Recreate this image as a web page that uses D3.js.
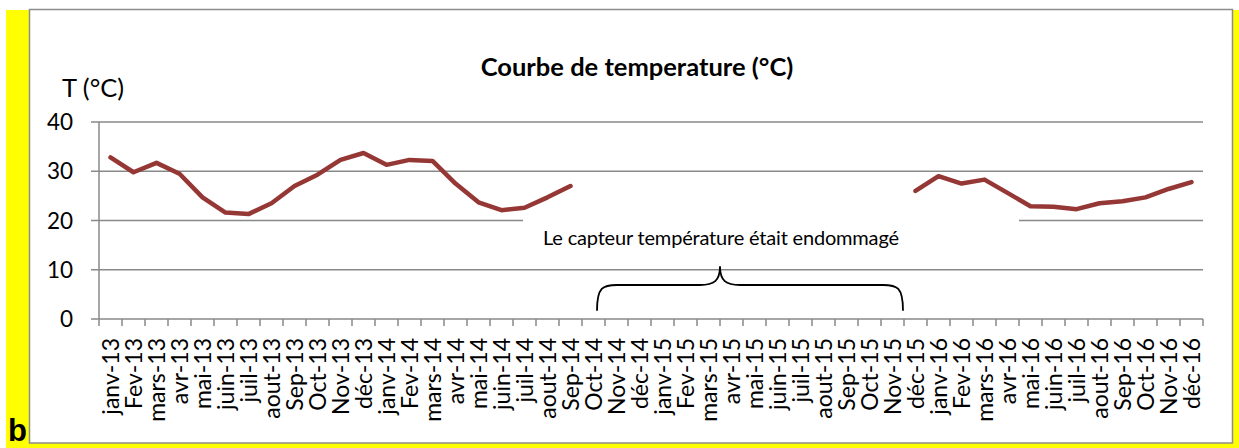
<!DOCTYPE html>
<meta charset="utf-8">
<html>
<head>
<style>
  body { margin: 0; background: #fff; }
  svg { display: block; }
  text { font-family: Lato, "Open Sans", sans-serif; fill: #000; }
</style>
</head>
<body>
<script src="https://d3js.org/d3.v7.min.js"></script>
<script>
// month labels, as written on the x axis
var months = ["janv-13","Fev-13","mars-13","avr-13","mai-13","juin-13","juil-13","aout-13","Sep-13","Oct-13","Nov-13","déc-13",
              "janv-14","Fev-14","mars-14","avr-14","mai-14","juin-14","juil-14","aout-14","Sep-14","Oct-14","Nov-14","déc-14",
              "janv-15","Fev-15","mars-15","avr-15","mai-15","juin-15","juil-15","aout-15","Sep-15","Oct-15","Nov-15","déc-15",
              "janv-16","Fev-16","mars-16","avr-16","mai-16","juin-16","juil-16","aout-16","Sep-16","Oct-16","Nov-16","déc-16"];

// monthly temperature (°C), null while the sensor was broken
var temps = [32.8, 29.8, 31.7, 29.5, 24.7, 21.6, 21.3, 23.5, 27.0, 29.3, 32.3, 33.7,
             31.3, 32.3, 32.1, 27.5, 23.7, 22.1, 22.6, 24.7, 27.0, null, null, null,
             null, null, null, null, null, null, null, null, null, null, null, 26.0,
             29.0, 27.5, 28.3, 25.6, 22.9, 22.8, 22.3, 23.5, 23.9, 24.7, 26.4, 27.8];

var yTicks = [0, 10, 20, 30, 40];

var W = 1239, H = 448;
var margin = {top: 122, left: 99},
    width = 1104,
    height = 197;

var svg = d3.select("body").append("svg")
    .attr("width", W)
    .attr("height", H);

// yellow frame + white chart box
svg.append("rect").attr("x", 6).attr("y", 10).attr("width", W - 6).attr("height", H - 10)
    .style("fill", "#ffff00");
svg.append("rect").attr("x", 29.5).attr("y", 9.5).attr("width", 1203).attr("height", 433.5)
    .style("fill", "#fff").style("stroke", "#8c8c8c").style("stroke-width", 1.5);

svg.append("text")
    .attr("x", 8).attr("y", 441)
    .style("font-family", "'Liberation Sans', Arial, sans-serif")
    .style("font-weight", "bold").style("font-size", "31px")
    .text("b");

var g = svg.append("g")
    .attr("transform", "translate(" + margin.left + "," + margin.top + ")");

var x = d3.scaleBand().domain(months).range([0, width]);
var y = d3.scaleLinear().domain([0, 40]).range([height, 0]);

// gridlines
g.selectAll(".grid")
    .data(yTicks)
    .enter().append("line")
    .attr("x1", -8).attr("x2", width)
    .attr("y1", function(d) { return y(d); })
    .attr("y2", function(d) { return y(d); })
    .style("stroke", "#898989").style("stroke-width", 1.5);

// y labels
g.selectAll(".ylab")
    .data(yTicks)
    .enter().append("text")
    .attr("x", -26)
    .attr("y", function(d) { return y(d); })
    .attr("dy", "0.36em")
    .attr("text-anchor", "end")
    .style("font-size", "22.5px")
    .text(function(d) { return d; });

// y axis line
g.append("line").attr("x1", 0).attr("x2", 0).attr("y1", 0).attr("y2", height)
    .style("stroke", "#898989").style("stroke-width", 1.5);

// ticks between categories
var bounds = months.map(function(m) { return x(m); }).concat([width]);
g.selectAll(".xtick")
    .data(bounds)
    .enter().append("line")
    .attr("x1", function(d) { return d; }).attr("x2", function(d) { return d; })
    .attr("y1", height).attr("y2", height + 7)
    .style("stroke", "#898989").style("stroke-width", 1.5);

// x labels, rotated
g.selectAll(".xlab")
    .data(months)
    .enter().append("text")
    .attr("text-anchor", "end")
    .attr("dy", "0.36em")
    .style("font-size", "23px")
    .attr("transform", function(d) {
        return "translate(" + (x(d) + x.bandwidth() / 2) + "," + (height + 19) + ") rotate(-90)";
    })
    .text(function(d) { return d; });

// white box of the annotation (hides part of the 20 gridline)
g.append("rect")
    .attr("x", x("Sep-14") - 36).attr("y", y(20) - 16)
    .attr("width", x("mai-16") - x("Sep-14") + 36).attr("height", 34)
    .style("fill", "#fff");

g.append("text")
    .attr("x", x("Oct-14") - 39).attr("y", y(20) + 24)
    .attr("textLength", 356)
    .attr("lengthAdjust", "spacing")
    .style("font-size", "20px")
    .text("Le capteur température était endommagé");

// curly brace under the gap
var bx0 = x("Oct-14") + 15, bx1 = x("déc-15") - 1, tip = x("avr-15"),
    yEnd = y(1.7), yMid = y(6.9), yTip = y(10.7), r = 20;
var brace = "M" + bx0 + "," + yEnd +
    " C" + bx0 + "," + (yMid + 2) + " " + (bx0 + 6) + "," + yMid + " " + (bx0 + r) + "," + yMid +
    " L" + (tip - r) + "," + yMid +
    " C" + (tip - 6) + "," + yMid + " " + tip + "," + (yMid - 4) + " " + tip + "," + yTip +
    " C" + tip + "," + (yMid - 4) + " " + (tip + 6) + "," + yMid + " " + (tip + r) + "," + yMid +
    " L" + (bx1 - r) + "," + yMid +
    " C" + (bx1 - 6) + "," + yMid + " " + bx1 + "," + (yMid + 2) + " " + bx1 + "," + yEnd;
g.append("path").attr("d", brace)
    .style("fill", "none").style("stroke", "#000").style("stroke-width", 1.8);

// temperature curve
var line = d3.line()
    .defined(function(d) { return d != null; })
    .x(function(d, i) { return x(months[i]) + x.bandwidth() / 2; })
    .y(function(d) { return y(d); });

g.append("path")
    .datum(temps)
    .attr("d", line)
    .style("fill", "none")
    .style("stroke", "#953735")
    .style("stroke-width", 4.5)
    .style("stroke-linejoin", "round")
    .style("stroke-linecap", "round");

// titles
svg.append("text")
    .attr("x", 637).attr("y", 76)
    .attr("text-anchor", "middle")
    .style("font-weight", "bold").style("font-size", "25.5px")
    .text("Courbe de temperature (°C)");

svg.append("text")
    .attr("x", 62).attr("y", 97)
    .style("font-size", "25.5px")
    .text("T (°C)");
</script>
</body>
</html>
